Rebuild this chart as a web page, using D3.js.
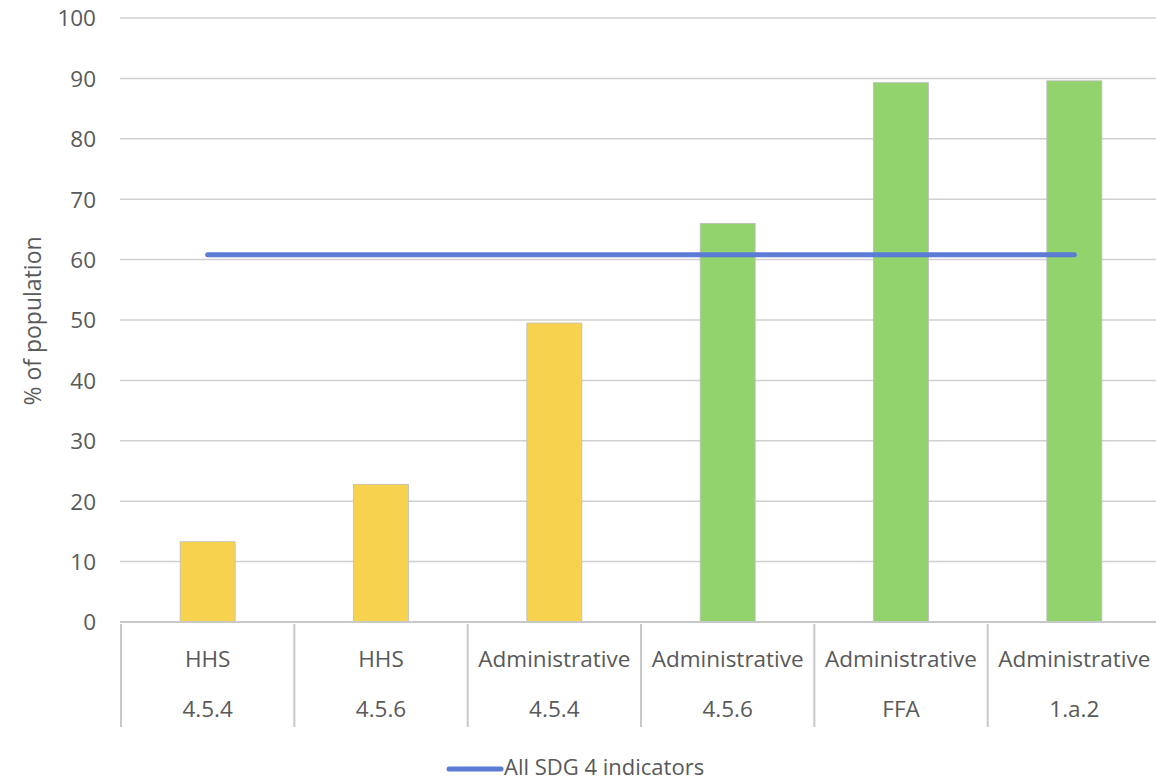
<!DOCTYPE html>
<html><head><meta charset="utf-8">
<script src="https://cdn.jsdelivr.net/npm/d3@7"></script>
<style>body{margin:0;background:#fff;} text{font-family:"Open Sans",sans-serif;fill:#595959;}</style>
</head><body>
<svg id="c" width="1156" height="782"></svg>
<script>
const sources = ["HHS","HHS","Administrative","Administrative","Administrative","Administrative"];
const indicators = ["4.5.4","4.5.6","4.5.4","4.5.6","FFA","1.a.2"];
const values = [13.3, 22.8, 49.5, 66.0, 89.3, 89.6];
const barColors = ["#F7D24E","#F7D24E","#F7D24E","#92D36E","#92D36E","#92D36E"];
const lineValues = [60.8, 60.8, 60.8, 60.8, 60.8, 60.8];
const yTicks = [0,10,20,30,40,50,60,70,80,90,100];
const lineName = "All SDG 4 indicators";

(function(){
const svg = d3.select("#c");
const pL = 121, pR = 1161, pT = 18, pB = 622;
const fs = "22.5px";
const keys = d3.range(values.length);
const x = d3.scaleBand().domain(keys).range([pL, pR]).paddingInner(0).paddingOuter(0);
const y = d3.scaleLinear().domain([0,100]).range([pB, pT]);

// gridlines
svg.append("g").selectAll("line").data(yTicks.filter(d=>d>0)).join("line")
  .attr("x1", pL-1).attr("x2", 1156).attr("y1", d=>y(d)).attr("y2", d=>y(d))
  .attr("stroke", "#d0d0d0").attr("stroke-width", 1.5);

// y tick labels
const yAxis = d3.axisLeft(y).tickValues(yTicks).tickSize(0).tickPadding(0);
const ga = svg.append("g").attr("transform", `translate(96,0)`).call(yAxis);
ga.select(".domain").remove();
ga.selectAll("text").style("font-size",fs).style("font-family","'Open Sans',sans-serif").attr("fill","#595959").attr("dy","0.35em");

// bars
const bw = 55;
svg.append("g").selectAll("rect").data(keys).join("rect")
  .attr("x", d=>x(d)+x.bandwidth()/2-bw/2).attr("width", bw)
  .attr("y", d=>y(values[d])).attr("height", d=>y(0)-y(values[d]))
  .attr("fill", d=>barColors[d]).attr("stroke", "#bdbdbd").attr("stroke-width", 0.8);

// x axis line
svg.append("line").attr("x1", pL-1).attr("x2", 1156).attr("y1", pB).attr("y2", pB)
  .attr("stroke", "#c8c8c8").attr("stroke-width", 2);

// category separators
svg.append("g").selectAll("line").data(d3.range(values.length+1)).join("line")
  .attr("x1", d=>pL + d*x.step()).attr("x2", d=>pL + d*x.step())
  .attr("y1", pB+2).attr("y2", 727)
  .attr("stroke", "#c8c8c8").attr("stroke-width", 2);

// category labels
svg.append("g").selectAll("text").data(keys).join("text")
  .attr("x", d=>x(d)+x.bandwidth()/2).attr("y", 659).attr("dy","0.35em")
  .attr("text-anchor","middle").style("font-size",fs).text(d=>sources[d]);
svg.append("g").selectAll("text").data(keys).join("text")
  .attr("x", d=>x(d)+x.bandwidth()/2).attr("y", 709).attr("dy","0.35em")
  .attr("text-anchor","middle").style("font-size",fs).text(d=>indicators[d]);

// line
const line = d3.line().x(d=>x(d)+x.bandwidth()/2).y(d=>y(lineValues[d]));
svg.append("path").datum(keys).attr("d", line).attr("fill","none")
  .attr("stroke","#5B7BD5").attr("stroke-width",5).attr("stroke-linecap","round");

// y title
svg.append("text").attr("transform","translate(33,321) rotate(-90)").attr("dy","0.35em")
  .attr("text-anchor","middle").style("font-size","23px").text("% of population");

// legend
svg.append("line").attr("x1",449).attr("x2",501).attr("y1",769).attr("y2",769)
  .attr("stroke","#5B7BD5").attr("stroke-width",5).attr("stroke-linecap","round");
svg.append("text").attr("x",504).attr("y",767).attr("dy","0.35em").style("font-size","22px").text(lineName);
})();
</script>
</body></html>
